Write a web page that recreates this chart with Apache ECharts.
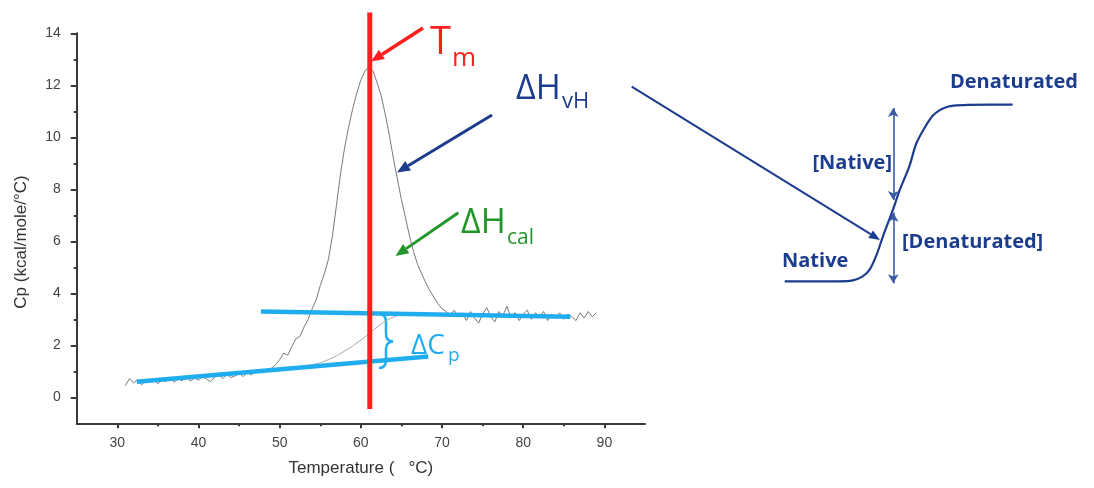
<!DOCTYPE html>
<html>
<head>
<meta charset="utf-8">
<script src="https://cdn.jsdelivr.net/npm/echarts@6/dist/echarts.min.js"></script>
<style>
html,body{margin:0;padding:0;background:#fff;}
#chart{width:1094px;height:488px;}
</style>
</head>
<body>
<div id="chart"></div>
<script>
// ---- DSC thermogram (Cp vs temperature) ----
const temperature = [
  31.0,31.5,32.0,32.5,33.0,33.5,34.0,34.5,35.0,35.5,36.0,36.5,37.0,37.5,38.0,38.5,39.0,39.5,
  40.0,40.5,41.0,41.5,42.0,42.5,43.0,43.5,44.0,44.5,45.0,45.5,46.0,46.5,47.0,47.5,48.0,48.5,
  49.0,49.5,50.0,50.5,51.0,51.5,52.0,52.5,53.0,53.5,54.0,54.5,55.0,55.5,56.0,56.5,57.0,57.5,
  58.0,58.5,59.0,59.5,60.0,60.5,61.0,61.5,62.0,62.5,63.0,63.5,64.0,64.5,65.0,65.5,66.0,66.5,
  67.0,67.5,68.0,68.5,69.0,69.5,70.0,70.5,71.0,71.5,72.0,72.5,73.0,73.5,74.0,74.5,75.0,75.5,
  76.0,76.5,77.0,77.5,78.0,78.5,79.0,79.5,80.0,80.5,81.0,81.5,82.0,82.5,83.0,83.5,84.0,84.5,
  85.0,85.5,86.0,86.5,87.0,87.5,88.0,88.5,89.0
];
const cp = [
  0.45,0.72,0.55,0.68,0.48,0.62,0.58,0.70,0.52,0.66,0.60,0.78,0.58,0.72,0.63,0.85,0.62,0.74,
  0.66,0.80,0.70,0.60,0.78,0.86,0.72,0.88,0.76,0.82,0.92,0.80,0.95,0.86,0.98,1.02,0.95,1.08,
  1.12,1.25,1.45,1.70,1.62,1.95,2.25,2.35,2.70,3.00,3.40,3.75,4.30,4.75,5.30,6.20,7.40,8.60,
  9.60,10.40,11.10,11.70,12.20,12.55,12.70,12.55,12.10,11.60,10.90,10.10,9.20,8.40,7.60,6.90,6.20,5.60,
  5.10,4.75,4.40,4.10,3.85,3.60,3.40,3.30,3.15,3.35,3.10,3.25,2.95,3.30,3.05,2.85,3.20,3.45,
  3.10,2.90,3.30,3.15,3.50,3.05,3.25,2.95,3.20,3.35,3.00,3.25,3.10,3.30,2.95,3.20,3.05,3.25,
  3.00,3.20,3.10,2.95,3.25,3.05,3.30,3.10,3.25
];
// progress baseline under the peak
const baselineT  = [52, 54, 56, 58, 60, 61, 62, 63, 64, 65, 66, 68];
const baselineCp = [1.15, 1.25, 1.45, 1.78, 2.2, 2.45, 2.7, 2.92, 3.08, 3.18, 3.23, 3.25];
// pre- and post-transition baselines (deltaCp)
const postLineT  = [47.7, 85.8];
const postLineCp = [3.30, 3.10];
const preLineT   = [32.4, 68.3];
const preLineCp  = [0.60, 1.57];
// melting temperature marker
const tm = 61.1;
const tmSpanCp = [-0.45, 14.8];

// axes
const xMin = 25, xMax = 95;
const yMin = -1, yMax = 14;
const xMajorTicks = [30, 40, 50, 60, 70, 80, 90];
const xMinorTicks = [35, 45, 55, 65, 75, 85];
const yMajorTicks = [0, 2, 4, 6, 8, 10, 12, 14];
const yMinorTicks = [1, 3, 5, 7, 9, 11, 13];

// ---- schematic: fraction denatured vs temperature (arbitrary units) ----
const schemX = [2, 15, 25, 31, 35, 38, 41, 44, 48, 51, 55, 58, 62, 65, 68, 71, 74, 80, 90, 99];
const schemY = [2, 2, 2, 2.5, 4.5, 8, 16, 27, 40.5, 51.5, 64, 76.5, 86, 91.5, 94.5, 96.2, 97, 97.4, 97.5, 97.5];
const schemArrowX = 48.2;
const nativeSpan = [95.7, 46];
const denatSpan = [39, 1];

const zip = (a, b) => a.map((v, i) => [v, b[i]]);

const RED = '#ff1f1f', NAVY = '#1c3c8e', GREEN = '#23962b', LBLUE = '#1fadef';
const AXIS = '#3a3a3a';

function arrowEls(x1, y1, x2, y2, color, lw, hl, hw) {
  const a = Math.atan2(y2 - y1, x2 - x1);
  const bx = x2 - hl * Math.cos(a), by = y2 - hl * Math.sin(a);
  const px = -Math.sin(a) * hw / 2, py = Math.cos(a) * hw / 2;
  return [
    {type: 'line', silent: true, shape: {x1: x1, y1: y1, x2: bx, y2: by}, style: {stroke: color, lineWidth: lw}},
    {type: 'polygon', silent: true, shape: {points: [[x2, y2], [bx + px, by + py], [bx - px, by - py]]}, style: {fill: color}}
  ];
}
function txt(x, y, text, color, size, weight, align) {
  return {type: 'text', silent: true, x: x, y: y,
    style: {text: text, fill: color, fontSize: size, fontWeight: weight || 'normal',
      fontFamily: '"Open Sans", sans-serif', align: align || 'left', verticalAlign: 'middle'}};
}
function bez(x1, y1, cx, cy, x2, y2, color, lw) {
  return {type: 'bezierCurve', silent: true,
    shape: {x1: x1, y1: y1, cpx1: cx, cpy1: cy, x2: x2, y2: y2},
    style: {stroke: color, lineWidth: lw, fill: null}};
}
function seg(x1, y1, x2, y2, color, lw) {
  return {type: 'line', silent: true, shape: {x1: x1, y1: y1, x2: x2, y2: y2}, style: {stroke: color, lineWidth: lw}};
}

const chart = echarts.init(document.getElementById('chart'), null, {renderer: 'canvas'});

const axisLabelStyle = {color: '#444', fontSize: 14, fontFamily: 'Arial, "Liberation Sans", sans-serif'};

const option = {
  animation: false,
  backgroundColor: '#fff',
  grid: [
    {left: 76.7, right: 449, top: 33.3, bottom: 64.7},
    {left: 780, right: 79, top: 100, bottom: 203}
  ],
  xAxis: [
    {type: 'value', gridIndex: 0, min: xMin, max: xMax, position: 'bottom',
      axisLine: {show: true, onZero: false, lineStyle: {color: AXIS, width: 2}},
      axisTick: {show: true, customValues: xMajorTicks, length: 5, lineStyle: {color: AXIS, width: 2}},
      axisLabel: {show: true, customValues: xMajorTicks, margin: 13, ...axisLabelStyle},
      splitLine: {show: false},
      name: 'Temperature (   \u00B0C)', nameLocation: 'middle', nameGap: 37,
      nameTextStyle: {color: '#333', fontSize: 17, fontFamily: 'Arial, "Liberation Sans", sans-serif'}},
    {type: 'value', gridIndex: 0, min: xMin, max: xMax, position: 'bottom',
      axisLine: {show: false, onZero: false},
      axisTick: {show: true, customValues: xMinorTicks, length: 3, lineStyle: {color: AXIS, width: 2}},
      axisLabel: {show: false}, splitLine: {show: false}},
    {type: 'value', gridIndex: 1, min: 0, max: 100, show: false}
  ],
  yAxis: [
    {type: 'value', gridIndex: 0, min: yMin, max: yMax, position: 'left',
      axisLine: {show: true, onZero: false, lineStyle: {color: AXIS, width: 2}},
      axisTick: {show: true, customValues: yMajorTicks, length: 6, lineStyle: {color: AXIS, width: 2}},
      axisLabel: {show: true, customValues: yMajorTicks, margin: 16, ...axisLabelStyle},
      splitLine: {show: false}},
    {type: 'value', gridIndex: 0, min: yMin, max: yMax, position: 'left',
      axisLine: {show: false, onZero: false},
      axisTick: {show: true, customValues: yMinorTicks, length: 3, lineStyle: {color: AXIS, width: 2}},
      axisLabel: {show: false}, splitLine: {show: false}},
    {type: 'value', gridIndex: 1, min: 0, max: 100, show: false}
  ],
  series: [
    {name: 'progress baseline', type: 'line', xAxisIndex: 0, yAxisIndex: 0, data: zip(baselineT, baselineCp),
      smooth: true, symbol: 'none', lineStyle: {color: '#a8a8a8', width: 1}, z: 2},
    {name: 'Cp', type: 'line', xAxisIndex: 0, yAxisIndex: 0, data: zip(temperature, cp),
      symbol: 'none', lineStyle: {color: '#7a7a7a', width: 1}, z: 3},
    {name: 'post', type: 'line', xAxisIndex: 0, yAxisIndex: 0, data: zip(postLineT, postLineCp),
      symbol: 'none', clip: false, lineStyle: {color: LBLUE, width: 4.5}, z: 4},
    {name: 'pre', type: 'line', xAxisIndex: 0, yAxisIndex: 0, data: zip(preLineT, preLineCp),
      symbol: 'none', clip: false, lineStyle: {color: LBLUE, width: 4.5}, z: 4},
    {name: 'Tm', type: 'line', xAxisIndex: 0, yAxisIndex: 0, data: [[tm, tmSpanCp[0]], [tm, tmSpanCp[1]]],
      symbol: 'none', clip: false, lineStyle: {color: RED, width: 5}, z: 5},
    {name: 'schematic', type: 'line', xAxisIndex: 2, yAxisIndex: 2, data: zip(schemX, schemY),
      smooth: 0.3, symbol: 'none', clip: false, lineStyle: {color: NAVY, width: 2.2}, z: 3,
      markLine: {silent: true, symbol: ['arrow', 'arrow'], symbolSize: [8, 9],
        lineStyle: {color: '#3a5aa5', width: 1.6, type: 'solid'}, label: {show: false},
        data: [
          [{coord: [schemArrowX, nativeSpan[0]]}, {coord: [schemArrowX, nativeSpan[1]]}],
          [{coord: [schemArrowX, denatSpan[0]]}, {coord: [schemArrowX, denatSpan[1]]}]
        ]}}
  ],
  graphic: [
    // y axis title
    {type: 'text', silent: true, x: 21, y: 242, rotation: Math.PI / 2,
      style: {text: 'Cp (kcal/mole/\u00B0C)', fill: '#333', fontSize: 17,
        fontFamily: 'Arial, "Liberation Sans", sans-serif', align: 'center', verticalAlign: 'middle'}},
    // Tm
    ...arrowEls(423, 28, 371, 61.5, RED, 3.5, 13, 11),
    txt(430, 43, 'T', RED, 38),
    txt(452, 59, 'm', RED, 26),
    // dH vH
    ...arrowEls(492, 115, 397, 172.5, NAVY, 3, 13, 11),
    txt(516, 89, '\u0394H', NAVY, 34),
    txt(562, 102, 'vH', NAVY, 22),
    // dH cal
    ...arrowEls(458.3, 212.7, 395.5, 256, GREEN, 3, 13, 11),
    txt(461, 223, '\u0394H', GREEN, 34),
    txt(507, 238, 'cal', GREEN, 21),
    // dCp brace
    bez(379, 314, 386, 314, 386, 322, LBLUE, 2.5),
    seg(386, 322, 386, 334, LBLUE, 2.5),
    bez(386, 334, 386, 341, 393, 341.5, LBLUE, 2.5),
    bez(393, 341.5, 386, 342, 386, 349, LBLUE, 2.5),
    seg(386, 349, 386, 360, LBLUE, 2.5),
    bez(386, 360, 386, 368, 379, 368, LBLUE, 2.5),
    txt(411, 346, '\u0394C', LBLUE, 28),
    txt(448, 356, 'p', LBLUE, 19),
    // long arrow to schematic
    ...arrowEls(631.7, 86.7, 880, 240, NAVY, 2, 11, 9),
    // schematic labels
    txt(950, 82, 'Denaturated', NAVY, 20, 'bold'),
    txt(892, 163, '[Native]', NAVY, 20, 'bold', 'right'),
    txt(902, 242, '[Denaturated]', NAVY, 20, 'bold'),
    txt(782, 261, 'Native', NAVY, 20, 'bold')
  ]
};
chart.setOption(option);
</script>
</body>
</html>
